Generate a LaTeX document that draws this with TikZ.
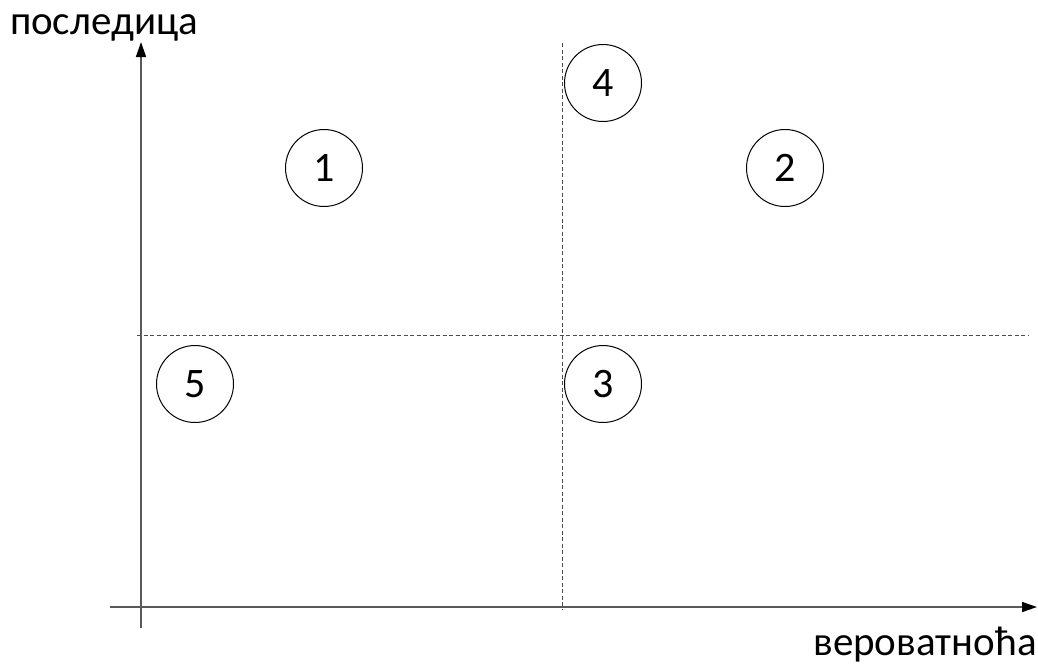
\documentclass[tikz,border=0pt]{standalone}
\usepackage{fontspec}
\setmainfont{Carlito}
\usetikzlibrary{arrows.meta}
\begin{document}
\begin{tikzpicture}[x=1pt,y=-1pt,
  axis/.style={draw=black!65, line width=1.5pt, -{Triangle[length=15pt,width=10pt,fill=black,color=black]}},
  grid/.style={draw=black!70, line width=1pt, dash pattern=on 4pt off 2.5pt},
  circ/.style={circle, draw=black, line width=1pt, minimum size=77pt, inner sep=0pt, font=\fontsize{42}{42}\selectfont},
  lbl/.style={font=\fontsize{41}{41}\selectfont, inner sep=0pt}]
\useasboundingbox (0,0) rectangle (1038,665);
\coordinate (ys) at (141,628);
\coordinate (ye) at (141,42);
\coordinate (xs) at (110,607);
\coordinate (xe) at (1037,607);
\coordinate (hs) at (137,335);
\coordinate (he) at (1028,335);
\coordinate (vs) at (562,43);
\coordinate (ve) at (562,610);
\draw[grid] (hs) -- (he);
\draw[grid] (vs) -- (ve);
\draw[axis] (ys) -- (ye);
\draw[axis] (xs) -- (xe);
\node[circ] (c1) at (324,168) {1};
\node[circ] (c2) at (785,168) {2};
\node[circ] (c3) at (603,384) {3};
\node[circ] (c4) at (603,83) {4};
\node[circ] (c5) at (195,384) {5};
\node[lbl] (yl) at (104,28) {последица};
\node[lbl] (xl) at (925,645) {вероватноћа};
\end{tikzpicture}
\end{document}
